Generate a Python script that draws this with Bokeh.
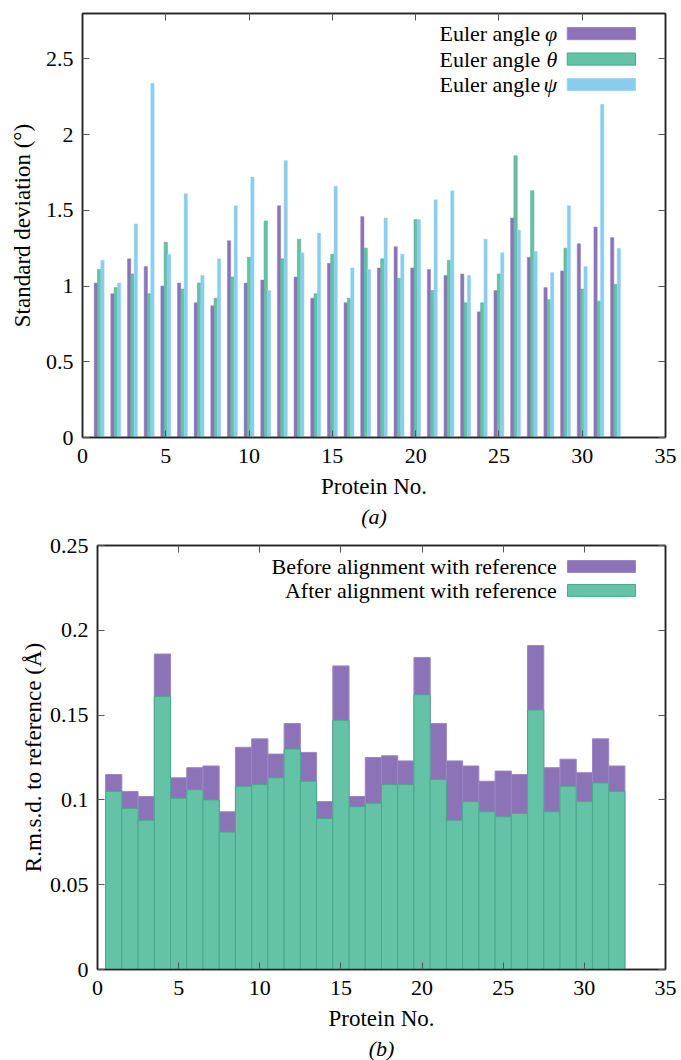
from bokeh.plotting import figure
from bokeh.models import (LinearAxis, FixedTicker, CustomJSTickFormatter, Range1d,
                          Label, BoxAnnotation, Title, ColumnDataSource)
from bokeh.transform import dodge
from bokeh.embed import file_html
from bokeh.resources import INLINE

FONT = "Liberation Serif"
PURPLE = "#8c73b8"
PURPLE_EDGE = "#9a85c4"
GREEN = "#64c3a6"
GREEN_EDGE = "#4aa98a"
BLUE = "#88cdec"
BLUE_EDGE = "#9dd6f0"

# ---------------- data ----------------
protein = list(range(1, 33))

phi = [1.02, 0.95, 1.18, 1.13, 1.00, 1.02, 0.89, 0.87, 1.30, 1.02, 1.04, 1.53,
       1.06, 0.92, 1.15, 0.89, 1.46, 1.12, 1.26, 1.12, 1.11, 1.07, 1.08, 0.83,
       0.97, 1.45, 1.19, 0.99, 1.10, 1.28, 1.39, 1.32]
theta = [1.11, 0.99, 1.08, 0.95, 1.29, 0.98, 1.02, 0.92, 1.06, 1.19, 1.43, 1.18,
         1.31, 0.95, 1.21, 0.92, 1.25, 1.18, 1.05, 1.44, 0.97, 1.17, 0.89, 0.89,
         1.08, 1.86, 1.63, 0.91, 1.25, 0.98, 0.90, 1.01]
psi = [1.17, 1.02, 1.41, 2.34, 1.21, 1.61, 1.07, 1.18, 1.53, 1.72, 0.97, 1.83,
       1.22, 1.35, 1.66, 1.12, 1.11, 1.45, 1.21, 1.44, 1.57, 1.63, 1.07, 1.31,
       1.22, 1.37, 1.23, 1.09, 1.53, 1.13, 2.20, 1.25]

before = [0.115, 0.105, 0.102, 0.186, 0.113, 0.119, 0.120, 0.093, 0.131, 0.136,
          0.127, 0.145, 0.128, 0.099, 0.179, 0.102, 0.125, 0.126, 0.123, 0.184,
          0.145, 0.123, 0.120, 0.111, 0.117, 0.115, 0.191, 0.119, 0.124, 0.116,
          0.136, 0.120]
after = [0.105, 0.095, 0.088, 0.161, 0.101, 0.106, 0.100, 0.081, 0.108, 0.109,
         0.113, 0.130, 0.111, 0.089, 0.147, 0.096, 0.098, 0.109, 0.109, 0.162,
         0.112, 0.088, 0.099, 0.093, 0.090, 0.092, 0.153, 0.093, 0.108, 0.099,
         0.110, 0.105]

x_ticks = [0, 5, 10, 15, 20, 25, 30, 35]
y_ticks_a = [0, 0.5, 1, 1.5, 2, 2.5]
y_ticks_b = [0, 0.05, 0.1, 0.15, 0.2, 0.25]

legend_a = [("Euler angle", "φ", PURPLE, PURPLE_EDGE),
            ("Euler angle", "θ", GREEN, GREEN_EDGE),
            ("Euler angle", "ψ", BLUE, BLUE_EDGE)]
legend_b = [("Before alignment with reference", PURPLE, PURPLE_EDGE),
            ("After alignment with reference", GREEN, GREEN_EDGE)]

fmt = CustomJSTickFormatter(code="return String(Number(tick.toFixed(4)));")
AX = "#222222"


def style(p, xlabel, ylabel, yticks, caption, ylab_standoff):
    p.grid.visible = False
    p.outline_line_color = AX
    p.outline_line_width = 1.5
    p.background_fill_color = "white"
    p.border_fill_color = "white"
    axes = list(p.xaxis) + list(p.yaxis)
    for ax in axes:
        ax.major_tick_in = 7
        ax.major_tick_out = 0
        ax.minor_tick_line_color = None
        ax.axis_line_color = AX
        ax.axis_line_width = 1.5
        ax.major_tick_line_color = "#555555"
        ax.major_label_text_font = FONT
        ax.major_label_text_font_size = "22px"
        ax.major_label_text_color = "black"
        ax.axis_label_text_font = FONT
        ax.axis_label_text_font_size = "23px"
        ax.axis_label_text_font_style = "normal"
        ax.axis_label_text_color = "black"
        ax.formatter = fmt
    p.xaxis.ticker = FixedTicker(ticks=x_ticks)
    p.yaxis.ticker = FixedTicker(ticks=yticks)
    p.xaxis.axis_label = xlabel
    p.yaxis.axis_label = ylabel
    p.xaxis.major_label_standoff = 11
    p.xaxis.axis_label_standoff = 8
    p.yaxis.major_label_standoff = 9
    p.yaxis.axis_label_standoff = ylab_standoff
    for side, tk in (("right", yticks), ("above", x_ticks)):
        ax = LinearAxis(ticker=FixedTicker(ticks=tk), major_label_text_font_size="1px",
                        major_label_text_color=None, major_label_standoff=0,
                        major_tick_in=7, major_tick_out=0,
                        minor_tick_line_color=None, axis_line_color=AX,
                        axis_line_width=1.5, major_tick_line_color="#555555")
        p.add_layout(ax, side)
    p.add_layout(Title(text=caption, align="center", text_font=FONT,
                       text_font_size="22px", text_font_style="italic",
                       text_color="black", standoff=0), "below")


# ---------------- (a) ----------------
src1 = ColumnDataSource(dict(protein=protein, phi=phi, theta=theta, psi=psi))
p1 = figure(width=681, height=530, x_range=Range1d(0, 35), y_range=Range1d(0, 2.8),
            output_backend="svg", toolbar_location=None,
            min_border_left=82, min_border_right=16, min_border_top=13,
            min_border_bottom=93)
p1.vbar(x=dodge("protein", -0.2), top="phi", width=0.2, source=src1,
        fill_color=PURPLE, line_color=PURPLE_EDGE, line_width=0.5)
p1.vbar(x=dodge("protein", 0.0), top="theta", width=0.2, source=src1,
        fill_color=GREEN, line_color=GREEN_EDGE, line_width=0.5)
p1.vbar(x=dodge("protein", 0.2), top="psi", width=0.2, source=src1,
        fill_color=BLUE, line_color=BLUE_EDGE, line_width=0.5)
style(p1, "Protein No.", "Standard deviation (°)", y_ticks_a, "(a)", 8)

for i, (txt, greek, col, edge) in enumerate(legend_a):
    yc = 2.667 - i * 0.168
    p1.add_layout(Label(x=28.5, y=yc, x_offset=-17, text=txt, text_align="right",
                        text_baseline="middle", text_font=FONT, text_font_size="22px",
                        text_color="black"))
    p1.add_layout(Label(x=28.5, y=yc, text=greek, text_align="right",
                        text_baseline="middle", text_font=FONT, text_font_size="22px",
                        text_font_style="italic", text_color="black"))
    p1.add_layout(BoxAnnotation(left=29.1, right=33.2, bottom=yc - 0.04, top=yc + 0.04,
                                fill_color=col, fill_alpha=1.0, line_color=edge,
                                line_alpha=1.0, line_width=1))

# ---------------- (b) ----------------
src2 = ColumnDataSource(dict(protein=protein, before=before, after=after))
p2 = figure(width=681, height=530, x_range=Range1d(0, 35), y_range=Range1d(0, 0.25),
            output_backend="svg", toolbar_location=None,
            min_border_left=97, min_border_right=16, min_border_top=15,
            min_border_bottom=90)
p2.vbar(x="protein", top="before", width=1.0, source=src2,
        fill_color=PURPLE, line_color=PURPLE_EDGE, line_width=1)
p2.vbar(x="protein", top="after", width=1.0, source=src2,
        fill_color=GREEN, line_color=GREEN_EDGE, line_width=1)
style(p2, "Protein No.", "R.m.s.d. to reference (Å)", y_ticks_b, "(b)", 1)

for i, (txt, col, edge) in enumerate(legend_b):
    yc = 0.2376 - i * 0.0141
    p2.add_layout(Label(x=28.3, y=yc, text=txt, text_align="right",
                        text_baseline="middle", text_font=FONT, text_font_size="22px",
                        text_color="black"))
    p2.add_layout(BoxAnnotation(left=28.96, right=33.15, bottom=yc - 0.0035,
                                top=yc + 0.0035, fill_color=col, fill_alpha=1.0,
                                line_color=edge, line_alpha=1.0, line_width=1))

open("out.html", "w").write(file_html([p1, p2], INLINE))
